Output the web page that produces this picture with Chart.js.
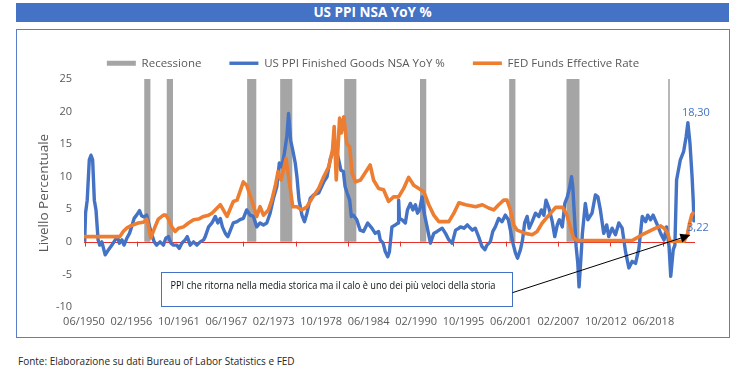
<!DOCTYPE html>
<html lang="it">
<head>
<meta charset="UTF-8">
<title>US PPI NSA YoY %</title>
<script src="https://cdn.jsdelivr.net/npm/chart.js"></script>
<style>
  body { margin: 0; background: #fff; font-family: 'Open Sans', sans-serif; }
  .title {
    position: absolute; left: 16px; top: 3px; width: 713px; height: 19px;
    background: #4472c4; color: #fff; font-weight: bold; font-size: 13.5px;
    line-height: 19px; text-align: center;
  }
  .frame {
    position: absolute; left: 16px; top: 29px; width: 712px; height: 307px;
    border: 1px solid #5b7fc6;
  }
  .footnote { position: absolute; left: 18px; top: 354px; font-size: 10px; color: #262626; }
</style>
</head>
<body>
<div class="title">US PPI NSA YoY %</div>
<div class="frame"><canvas id="ppiChart"></canvas></div>
<div class="footnote">Fonte: Elaborazione su dati Bureau of Labor Statistics e FED</div>

<script>
// x axis labels (category labels every 68 months, as in the sheet)
const tickYears = [1950.417, 1956.083, 1961.75, 1967.417, 1973.083, 1978.75, 1984.417,
                   1990.083, 1995.75, 2001.417, 2007.083, 2012.75, 2018.417];
const tickLabels = ['06/1950', '02/1956', '10/1961', '06/1967', '02/1973', '10/1978', '06/1984',
                    '02/1990', '10/1995', '06/2001', '02/2007', '10/2012', '06/2018'];
// little red marks on the zero line
const zeroTicks = [1950.5, 1956.8, 1963.1, 1969.4, 1975.7, 1982.0, 1988.2, 1994.5, 2000.8, 2007.0, 2013.3, 2019.6];

// recessions (decimal years)
const recStart = [1957.6, 1960.3, 1969.9, 1973.85, 1981.5, 1990.55, 2001.2, 2008.05, 2020.2];
const recEnd   = [1958.35, 1961.05, 1971.0, 1975.3, 1982.95, 1991.3, 2001.95, 2009.6, 2020.4];

// US PPI Finished Goods NSA YoY %
const ppiDates = [
  1950.5, 1950.6, 1950.8, 1951.05, 1951.25, 1951.45, 1951.65, 1951.85, 1952.1, 1952.3,
  1952.55, 1952.75, 1952.95, 1953.35, 1953.75, 1954.15, 1954.4, 1954.65, 1954.95, 1955.2,
  1955.55, 1955.85, 1956.1, 1956.4, 1956.7, 1957.05, 1957.3, 1957.6, 1957.9, 1958.1,
  1958.4, 1958.8, 1959.1, 1959.5, 1959.9, 1960.2, 1960.5, 1960.8, 1961.1, 1961.5,
  1961.8, 1962.1, 1962.5, 1962.75, 1963.1, 1963.5, 1963.9, 1964.3, 1964.7, 1964.9,
  1965.3, 1965.7, 1966.1, 1966.4, 1966.7, 1966.95, 1967.3, 1967.6, 1967.85, 1968.25,
  1968.7, 1969.05, 1969.45, 1969.85, 1970.25, 1970.65, 1971.05, 1971.45, 1971.85, 1972.25,
  1972.65, 1973.05, 1973.45, 1973.75, 1974.05, 1974.35, 1974.65, 1974.85, 1975.1, 1975.35,
  1975.65, 1975.85, 1976.1, 1976.45, 1976.75, 1977.05, 1977.45, 1977.85, 1978.45, 1979.05,
  1979.45, 1979.85, 1980.45, 1980.8, 1981.1, 1981.4, 1981.6, 1981.85, 1982.15, 1982.35,
  1982.6, 1983.0, 1983.4, 1983.8, 1984.3, 1984.8, 1985.2, 1985.6, 1985.8, 1986.15,
  1986.4, 1986.7, 1986.9, 1987.2, 1987.6, 1987.95, 1988.0, 1988.1, 1988.4, 1988.8,
  1989.05, 1989.4, 1989.7, 1990.0, 1990.25, 1990.5, 1990.8, 1991.05, 1991.4, 1991.8,
  1992.2, 1992.6, 1993.2, 1993.6, 1994.0, 1994.4, 1994.8, 1995.2, 1995.4, 1995.8,
  1996.2, 1996.8, 1997.15, 1997.55, 1997.95, 1998.3, 1998.55, 1998.95, 1999.25, 1999.55,
  1999.95, 2000.35, 2000.75, 2001.1, 2001.35, 2001.65, 2001.95, 2002.2, 2002.55, 2002.8,
  2003.05, 2003.35, 2003.6, 2003.95, 2004.35, 2004.75, 2005.05, 2005.35, 2005.6, 2005.95,
  2006.35, 2006.65, 2006.95, 2007.2, 2007.55, 2007.85, 2008.15, 2008.4, 2008.65, 2008.8,
  2009.0, 2009.2, 2009.4, 2009.55, 2009.75, 2009.95, 2010.3, 2010.6, 2011.1, 2011.5,
  2011.8, 2012.1, 2012.5, 2012.85, 2013.1, 2013.5, 2013.9, 2014.3, 2014.7, 2015.1,
  2015.5, 2015.9, 2016.3, 2016.7, 2017.1, 2017.5, 2017.75, 2018.1, 2018.4, 2018.8,
  2019.3, 2019.7, 2020.0, 2020.3, 2020.5, 2020.8, 2021.0, 2021.2, 2021.65, 2022.05,
  2022.35, 2022.55, 2022.8, 2023.05, 2023.2, 2023.27
];
const ppiValues = [
  0.0, 4.4, 6.4, 12.6, 13.3, 12.6, 6.4, 4.9, 0.3, -0.5,
  0.0, -1.0, -2.0, -1.2, -0.5, 0.3, 0.8, -0.2, 0.3, -0.5,
  0.6, 1.3, 2.3, 3.6, 4.1, 4.8, 4.0, 3.8, 4.1, 3.1,
  1.6, 0.0, -0.5, 0.0, -0.5, 0.6, 0.8, -0.2, -0.5, -0.5,
  -1.0, -0.2, 0.3, 0.8, -0.5, 0.0, -0.5, 0.0, 0.3, 0.8,
  2.3, 2.9, 3.9, 2.9, 3.6, 2.3, 1.3, 0.8, 1.6, 2.9,
  3.1, 3.4, 3.6, 4.9, 4.1, 3.9, 2.3, 2.9, 2.6, 2.9,
  4.4, 6.7, 8.5, 12.1, 11.5, 13.6, 16.2, 19.7, 15.6, 14.1,
  12.1, 10.0, 6.4, 4.1, 3.1, 4.4, 6.7, 7.2, 7.5, 9.2,
  10.0, 12.8, 14.6, 12.8, 11.0, 10.8, 8.5, 7.5, 6.4, 3.9,
  4.1, 3.4, 1.8, 1.6, 2.9, 2.1, 1.3, 1.6, 0.3, -0.2,
  -1.5, -2.3, -1.5, 2.3, 2.6, 2.9, 6.4, 3.6, 3.4, 2.9,
  4.9, 5.9, 4.9, 5.7, 4.4, 4.9, 6.9, 4.4, 2.3, -0.2,
  1.3, 1.6, 2.1, 1.3, 0.3, -0.2, 1.8, 2.1, 2.3, 2.1,
  2.6, 1.8, 2.1, 0.8, -0.7, -1.2, -0.5, 0.0, 1.6, 2.3,
  3.6, 3.1, 4.1, 3.4, 1.8, -0.2, -1.7, -2.5, -1.2, 0.3,
  2.9, 3.9, 2.1, 3.1, 4.4, 3.9, 4.9, 4.1, 6.4, 5.2,
  3.1, 0.8, 2.6, 3.4, 2.3, 5.9, 6.9, 8.2, 10.0, 8.5,
  3.9, -0.7, -3.3, -6.9, -3.0, 1.3, 5.9, 3.4, 4.4, 7.2,
  6.9, 4.9, 1.3, 2.6, 0.8, 2.1, 1.1, 2.9, 2.1, -1.5,
  -4.0, -3.0, -3.3, -1.0, 3.9, 3.1, 4.1, 3.4, 4.1, 2.9,
  1.3, 0.3, 2.3, -0.7, -5.3, -1.2, -0.5, 9.5, 12.6, 13.9,
  16.2, 18.30, 15.1, 10.0, 6.0, 3.22
];
// points of the PPI line that carry a value label
const labelDates = [2022.55, 2023.27];

// FED Funds Effective Rate
const fedDates = [
  1950.42, 1954.7, 1955.1, 1955.5, 1955.9, 1956.3, 1956.9, 1957.5, 1957.9, 1958.1,
  1958.4, 1958.9, 1959.3, 1959.9, 1960.2, 1960.5, 1960.9, 1961.3, 1961.7, 1962.3,
  1962.9, 1963.5, 1964.1, 1964.7, 1965.3, 1965.7, 1966.7, 1967.5, 1968.25, 1968.7,
  1969.45, 1969.85, 1970.45, 1971.05, 1971.45, 1971.85, 1972.45, 1972.85, 1973.25, 1973.6,
  1973.95, 1974.55, 1975.05, 1975.35, 1975.85, 1976.45, 1977.05, 1977.65, 1978.45, 1979.05,
  1979.65, 1980.1, 1980.3, 1980.55, 1980.95, 1981.15, 1981.45, 1981.8, 1982.15, 1982.45,
  1982.85, 1983.45, 1984.6, 1985.0, 1985.6, 1986.2, 1986.8, 1987.4, 1988.0, 1988.6,
  1989.2, 1989.8, 1990.4, 1991.0, 1991.6, 1992.2, 1992.8, 1994.0, 1994.6, 1995.2,
  1996.0, 1997.2, 1998.0, 1998.75, 1999.35, 1999.95, 2000.55, 2000.95, 2001.35, 2001.75,
  2002.15, 2003.15, 2003.95, 2004.55, 2005.15, 2005.95, 2006.75, 2007.6, 2008.1, 2008.5,
  2008.9, 2009.3, 2015.9, 2016.3, 2017.1, 2017.9, 2018.7, 2019.3, 2019.7, 2020.15,
  2020.4, 2022.1, 2022.45, 2022.55, 2022.8, 2023.0, 2023.27
];
const fedValues = [
  0.8, 0.8, 1.6, 2.1, 2.4, 2.6, 2.9, 3.0, 3.5, 2.5,
  0.6, 2.3, 3.5, 4.1, 4.1, 3.5, 2.3, 1.6, 2.1, 2.3,
  2.9, 3.4, 3.5, 3.9, 4.1, 4.4, 5.7, 3.9, 6.2, 6.4,
  9.2, 8.7, 6.4, 3.9, 5.4, 4.1, 4.9, 6.4, 8.5, 10.8,
  9.5, 12.8, 8.2, 5.4, 5.4, 4.9, 5.4, 6.7, 8.2, 10.0,
  11.5, 14.1, 17.7, 9.5, 19.0, 16.7, 19.2, 15.1, 14.6, 10.5,
  9.2, 9.5, 11.8, 9.5, 8.2, 8.0, 6.2, 6.9, 6.9, 8.2,
  9.9, 8.7, 8.2, 7.7, 5.7, 4.1, 3.1, 3.1, 4.4, 6.0,
  5.7, 5.4, 5.7, 5.2, 4.9, 5.7, 6.4, 6.4, 4.9, 2.6,
  1.8, 1.3, 1.1, 1.6, 2.9, 4.1, 5.3, 5.3, 4.1, 2.3,
  0.6, 0.2, 0.2, 0.5, 1.1, 1.6, 2.1, 2.45, 2.1, 1.3,
  0.1, 0.1, 1.1, 1.6, 3.1, 4.1, 4.6
];

// note box and arrow, in axis units
const note = {
  text: 'PPI che ritorna nella media storica ma il calo è uno dei più veloci della storia',
  from: 1959.6, to: 2001.6, top: -4.7, bottom: -9.85,
  arrowFrom: [2001.6, -7.8], arrowTo: [2022.85, 1.05]
};

const BLUE = '#4472c4';
const ORANGE = '#ed7d31';
const GREY = '#a5a5a5';
const TEXT = '#595959';

Chart.defaults.font.family = "'Open Sans', sans-serif";
Chart.defaults.color = TEXT;

const recessionPoints = [];
recStart.forEach((s, i) => {
  recessionPoints.push({x: s, y: 0}, {x: s, y: 25}, {x: recEnd[i], y: 25}, {x: recEnd[i], y: 0});
});

const extras = {
  id: 'extras',
  beforeDatasetDraw(chart, args) {
    if (args.index !== 1) return;
    const {ctx, chartArea, scales: {x, y}} = chart;
    const y0 = Math.round(y.getPixelForValue(0)) + 0.5;
    ctx.save();
    ctx.strokeStyle = '#e8302a';
    ctx.lineWidth = 1;
    ctx.beginPath();
    ctx.moveTo(chartArea.left, y0);
    ctx.lineTo(chartArea.right, y0);
    zeroTicks.forEach(t => {
      const px = Math.round(x.getPixelForValue(t)) + 0.5;
      ctx.moveTo(px, y0 - 1);
      ctx.lineTo(px, y0 + 4);
    });
    ctx.stroke();
    ctx.restore();
  },
  afterDatasetsDraw(chart) {
    const {ctx, scales: {x, y}} = chart;
    ctx.save();

    // value labels on the PPI line
    const fmt = v => v.toFixed(2).replace('.', ',');
    const [iPeak, iLast] = labelDates.map(d => ppiDates.indexOf(d));
    ctx.font = "11px 'Open Sans'";
    ctx.fillStyle = BLUE;
    ctx.textAlign = 'center';
    ctx.textBaseline = 'middle';
    ctx.fillText(fmt(ppiValues[iPeak]), x.getPixelForValue(ppiDates[iPeak]) + 8, y.getPixelForValue(ppiValues[iPeak]) - 10);
    ctx.fillText(fmt(ppiValues[iLast]), x.getPixelForValue(ppiDates[iLast]) + 4, y.getPixelForValue(ppiValues[iLast]) + 7);

    // note box
    const bl = Math.round(x.getPixelForValue(note.from)) + 0.5;
    const br = Math.round(x.getPixelForValue(note.to)) + 0.5;
    const bt = Math.round(y.getPixelForValue(note.top)) + 0.5;
    const bb = Math.round(y.getPixelForValue(note.bottom)) + 0.5;
    ctx.fillStyle = '#fff';
    ctx.fillRect(bl, bt, br - bl, bb - bt);
    ctx.strokeStyle = BLUE;
    ctx.lineWidth = 1;
    ctx.strokeRect(bl, bt, br - bl, bb - bt);
    ctx.fillStyle = '#111';
    ctx.font = "10.5px 'Open Sans'";
    ctx.textAlign = 'left';
    ctx.fillText(note.text, bl + 9, bt + 14, 325);

    // arrow
    const ax = x.getPixelForValue(note.arrowFrom[0]);
    const ay = y.getPixelForValue(note.arrowFrom[1]);
    const tx = x.getPixelForValue(note.arrowTo[0]);
    const ty = y.getPixelForValue(note.arrowTo[1]);
    const ang = Math.atan2(ty - ay, tx - ax);
    ctx.strokeStyle = '#000';
    ctx.beginPath();
    ctx.moveTo(ax, ay);
    ctx.lineTo(tx - 8 * Math.cos(ang), ty - 8 * Math.sin(ang));
    ctx.stroke();
    ctx.fillStyle = '#000';
    ctx.beginPath();
    ctx.moveTo(tx, ty);
    ctx.lineTo(tx - 10 * Math.cos(ang) + 4.5 * Math.sin(ang), ty - 10 * Math.sin(ang) - 4.5 * Math.cos(ang));
    ctx.lineTo(tx - 10 * Math.cos(ang) - 4.5 * Math.sin(ang), ty - 10 * Math.sin(ang) + 4.5 * Math.cos(ang));
    ctx.closePath();
    ctx.fill();
    ctx.restore();
  }
};

new Chart(document.getElementById('ppiChart'), {
  type: 'line',
  data: {
    datasets: [
      {
        label: 'FED Funds Effective Rate',
        data: fedDates.map((d, i) => ({x: d, y: fedValues[i]})),
        borderColor: ORANGE,
        backgroundColor: ORANGE,
        borderWidth: 3.6,
        pointRadius: 0,
        pointStyle: 'line',
        borderJoinStyle: 'round',
        fill: false
      },
      {
        label: 'US PPI Finished Goods NSA YoY %',
        data: ppiDates.map((d, i) => ({x: d, y: ppiValues[i]})),
        borderColor: BLUE,
        backgroundColor: BLUE,
        borderWidth: 3.4,
        pointRadius: 0,
        pointStyle: 'line',
        borderJoinStyle: 'round',
        fill: false
      },
      {
        label: 'Recessione',
        data: recessionPoints,
        borderWidth: 0,
        borderColor: GREY,
        backgroundColor: GREY,
        pointRadius: 0,
        pointStyle: 'rect',
        fill: 'origin'
      }
    ]
  },
  options: {
    responsive: true,
    maintainAspectRatio: false,
    animation: false,
    layout: { padding: { top: -14, left: 0, right: 0, bottom: 0 } },
    scales: {
      x: {
        type: 'linear',
        min: 1950.417,
        max: 2023.4,
        grid: { display: false, drawTicks: false },
        border: { display: false },
        afterBuildTicks: s => { s.ticks = tickYears.map(v => ({value: v})); },
        afterFit: s => { s.height = 30; s.paddingRight = 34; },
        ticks: {
          autoSkip: false,
          maxRotation: 0,
          minRotation: 0,
          padding: 8,
          color: TEXT,
          font: { size: 11 },
          callback: (v, i) => tickLabels[i]
        }
      },
      y: {
        min: -10,
        max: 25,
        grid: { display: false, drawTicks: false },
        border: { display: false },
        afterFit: s => { s.width = 67; s.paddingTop = 49; },
        ticks: { stepSize: 5, padding: 12, color: TEXT, font: { size: 11 } },
        title: {
          display: true,
          text: 'Livello Percentuale',
          color: TEXT,
          font: { size: 13.5 },
          padding: { top: 19, bottom: 0 }
        }
      }
    },
    plugins: {
      legend: {
        position: 'top',
        reverse: true,
        labels: {
          usePointStyle: true,
          pointStyleWidth: 29,
          boxHeight: 5,
          padding: 28,
          color: TEXT,
          font: { size: 11.5 }
        }
      },
      tooltip: { enabled: false }
    }
  },
  plugins: [extras]
});
</script>
</body>
</html>
